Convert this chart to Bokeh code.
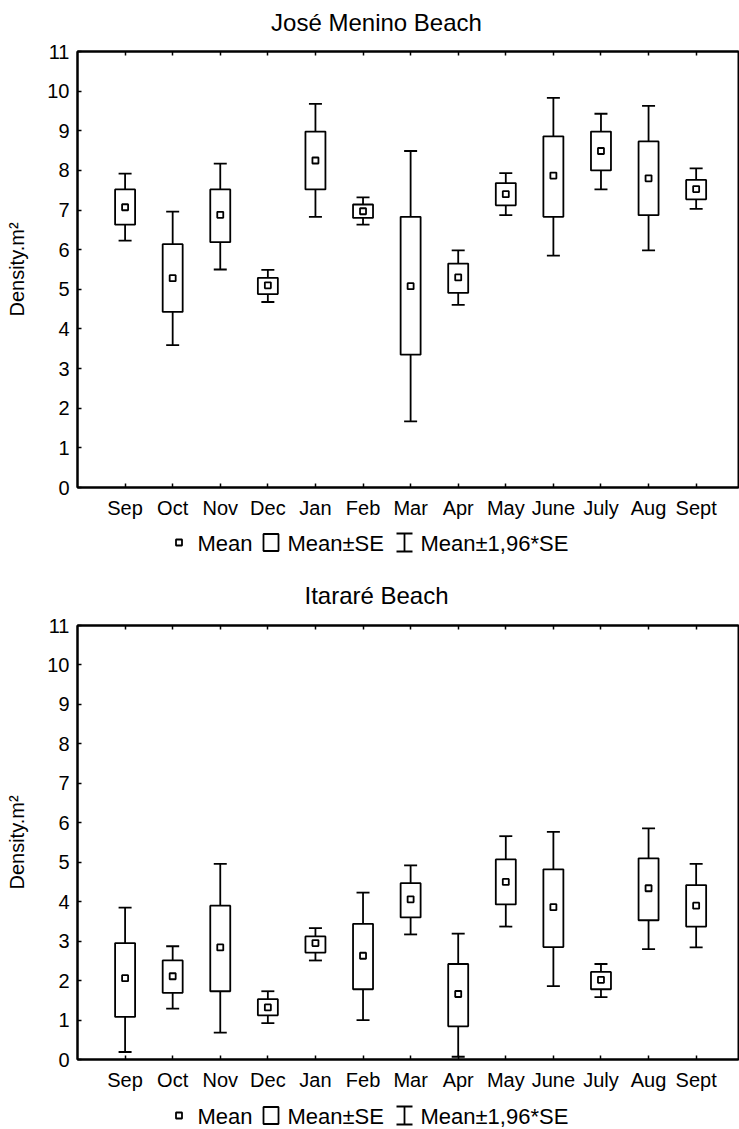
from bokeh.plotting import figure
from bokeh.models import Range1d, FixedTicker, LinearAxis, Whisker, TeeHead, ColumnDataSource
from bokeh.layouts import column
from bokeh.embed import file_html
from bokeh.resources import INLINE
from bokeh.core.properties import value

months = ["Sep", "Oct", "Nov", "Dec", "Jan", "Feb", "Mar", "Apr", "May", "June", "July", "Aug", "Sept"]
y_ticks = [0, 1, 2, 3, 4, 5, 6, 7, 8, 9, 10, 11]
legend_labels = ["Mean", "Mean±SE", "Mean±1,96*SE"]
y_label = "Density.m²"

# José Menino Beach
jm_title = "José Menino Beach"
jm_mean = [7.07, 5.28, 6.88, 5.10, 8.25, 6.97, 5.08, 5.30, 7.40, 7.87, 8.49, 7.80, 7.53]
jm_se_lo = [6.63, 4.43, 6.19, 4.88, 7.52, 6.80, 3.35, 4.91, 7.12, 6.83, 8.00, 6.87, 7.27]
jm_se_hi = [7.52, 6.14, 7.52, 5.29, 8.98, 7.14, 6.83, 5.65, 7.68, 8.86, 8.98, 8.73, 7.76]
jm_ci_lo = [6.23, 3.59, 5.50, 4.68, 6.83, 6.63, 1.67, 4.61, 6.87, 5.85, 7.52, 5.98, 7.03]
jm_ci_hi = [7.92, 6.96, 8.17, 5.49, 9.68, 7.32, 8.49, 5.98, 7.93, 9.83, 9.43, 9.63, 8.05]

# Itararé Beach
it_title = "Itararé Beach"
it_mean = [2.06, 2.11, 2.84, 1.32, 2.95, 2.63, 4.06, 1.66, 4.50, 3.86, 2.02, 4.34, 3.90]
it_se_lo = [1.08, 1.69, 1.73, 1.12, 2.71, 1.78, 3.60, 0.84, 3.93, 2.85, 1.78, 3.53, 3.37]
it_se_hi = [2.95, 2.51, 3.90, 1.53, 3.12, 3.44, 4.47, 2.42, 5.07, 4.82, 2.22, 5.10, 4.42]
it_ci_lo = [0.19, 1.29, 0.68, 0.92, 2.51, 1.00, 3.17, 0.07, 3.37, 1.86, 1.58, 2.80, 2.84]
it_ci_hi = [3.85, 2.87, 4.96, 1.73, 3.33, 4.23, 4.92, 3.19, 5.66, 5.77, 2.42, 5.86, 4.96]

FONT = "Liberation Sans"
W = 739
LEFT = 77
RIGHT = 738
LW = 1.8


def style_axis(ax, ticks, show_labels, size="20px"):
    ax.ticker = FixedTicker(ticks=ticks)
    ax.axis_line_color = "black"
    ax.axis_line_width = 2
    ax.major_tick_in = 4
    ax.major_tick_out = 0
    ax.major_tick_line_color = "black"
    ax.major_tick_line_width = 1.5
    ax.minor_tick_line_color = None
    ax.major_label_text_font = FONT
    ax.major_label_text_font_size = size
    if show_labels:
        ax.major_label_text_color = "black"
    else:
        ax.major_label_text_color = None
        ax.major_label_text_font_size = "1px"
        ax.major_label_standoff = 0


def strip(height):
    # the column aligns this strip's frame with the charts' frames (LEFT..RIGHT)
    q = figure(width=W, height=height, x_range=Range1d(LEFT, RIGHT), y_range=Range1d(height, 0),
               output_backend="svg", toolbar_location=None,
               x_axis_location=None, y_axis_location=None,
               min_border_left=LEFT, min_border_right=W - RIGHT, min_border_top=0, min_border_bottom=0)
    q.grid.visible = False
    q.outline_line_color = None
    return q


def make_title(text, height, middle):
    q = strip(height)
    q.text(x=[376], y=[middle], text=[text], text_align="center", text_baseline="middle",
           text_font=value(FONT), text_font_size="24px", text_color="black")
    return q


def make_chart(mean, se_lo, se_hi, ci_lo, ci_hi, height, b_top, b_bottom):
    xs = list(range(len(months)))
    src = ColumnDataSource(dict(x=xs, mean=mean, se_lo=se_lo, se_hi=se_hi, ci_lo=ci_lo, ci_hi=ci_hi))
    p = figure(width=W, height=height, x_range=Range1d(-1, 12.89), y_range=Range1d(0, 11),
               output_backend="svg", toolbar_location=None,
               x_axis_location=None, y_axis_location=None,
               min_border_left=LEFT, min_border_right=W - RIGHT, min_border_top=b_top, min_border_bottom=b_bottom)
    p.grid.visible = False
    p.outline_line_color = "black"
    p.outline_line_width = 2

    below = LinearAxis()
    style_axis(below, xs, True, "20px")
    below.major_label_overrides = {i: m for i, m in enumerate(months)}
    below.major_label_standoff = 9
    p.add_layout(below, "below")

    above = LinearAxis()
    style_axis(above, xs, False)
    p.add_layout(above, "above")

    left = LinearAxis()
    style_axis(left, y_ticks, True, "20px")
    left.major_label_standoff = 8
    left.axis_label = y_label
    left.axis_label_text_font = FONT
    left.axis_label_text_font_size = "20px"
    left.axis_label_text_font_style = "normal"
    left.axis_label_text_color = "black"
    left.axis_label_standoff = 16
    p.add_layout(left, "left")

    w = Whisker(source=src, base="x", lower="ci_lo", upper="ci_hi", dimension="height",
                line_color="black", line_width=LW, level="underlay",
                lower_head=TeeHead(size=13, line_color="black", line_width=LW),
                upper_head=TeeHead(size=13, line_color="black", line_width=LW))
    p.add_layout(w)
    p.vbar(x="x", width=0.42, bottom="se_lo", top="se_hi", source=src,
           fill_color="white", line_color="black", line_width=LW)
    p.scatter("x", "mean", source=src, marker="square", size=6,
              fill_color="white", line_color="black", line_width=LW)
    return p


def make_legend(height, c):
    q = strip(height)
    q.scatter(x=[178.5], y=[c], marker="square", size=6, fill_color="white",
              line_color="black", line_width=LW)
    q.quad(left=[263], right=[278], top=[c - 8.5], bottom=[c + 8.5],
           fill_color="white", line_color="black", line_width=LW)
    q.segment(x0=[404, 396, 396], y0=[c - 9, c - 9, c + 9], x1=[404, 412, 412], y1=[c + 9, c - 9, c + 9],
              line_color="black", line_width=LW)
    q.text(x=[197, 287, 420], y=[c + 1, c + 1, c + 1], text=legend_labels,
           text_baseline="middle", text_align="left",
           text_font=value(FONT), text_font_size="22px", text_color="black")
    return q


t1 = make_title(jm_title, 37, 22)
p1 = make_chart(jm_mean, jm_se_lo, jm_se_hi, jm_ci_lo, jm_ci_hi, 487, 14, 37)
l1 = make_legend(38, 18)
t2 = make_title(it_title, 49, 33)
p2 = make_chart(it_mean, it_se_lo, it_se_hi, it_ci_lo, it_ci_hi, 482, 14, 32)
l2 = make_legend(36, 22)

layout = column(t1, p1, l1, t2, p2, l2, spacing=0)
open("out.html", "w").write(file_html(layout, INLINE))
